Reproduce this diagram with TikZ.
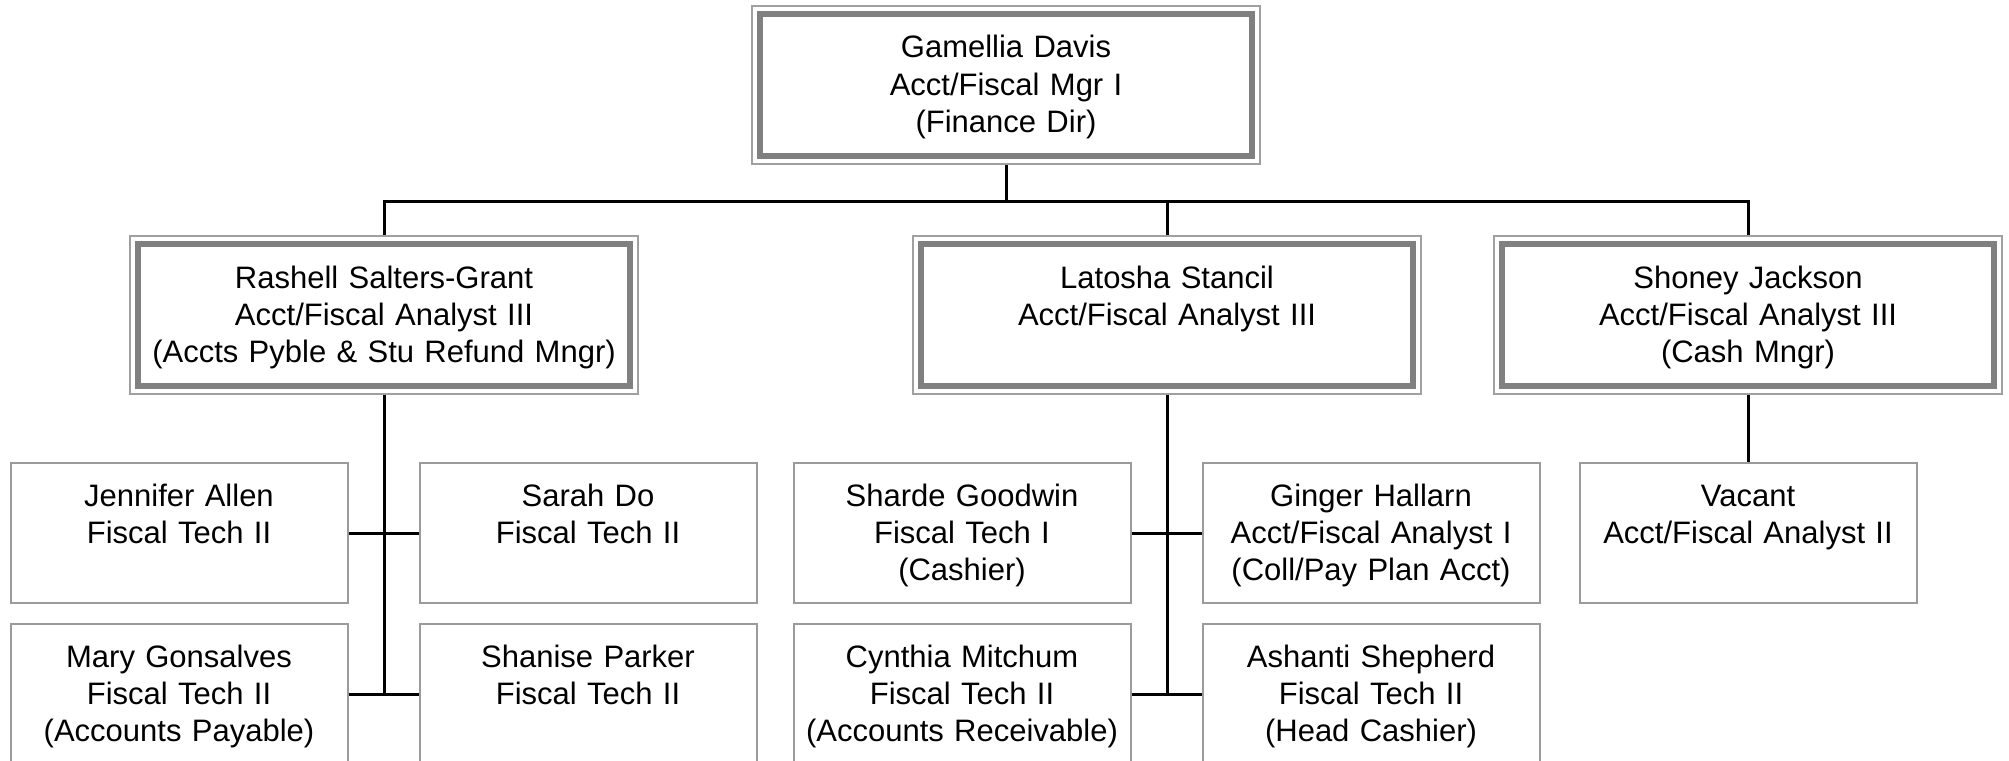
\documentclass[tikz,border=0pt]{standalone}
\usepackage{fontspec}
\setmainfont{Liberation Sans}
\usetikzlibrary{fit}
\definecolor{mgrgray}{RGB}{128,128,128}
\definecolor{rimgray}{RGB}{160,160,160}
\definecolor{staffgray}{RGB}{155,155,155}
\begin{document}
\begin{tikzpicture}[x=1pt,y=-1pt,
    every node/.style={font=\fontsize{31}{37}\selectfont,align=center,text height=24pt,text depth=78pt},
    mgr/.style={draw=mgrgray,line width=6pt,minimum width=492pt,minimum height=142pt,inner sep=2pt,text width=470pt},
    rim/.style={draw=rimgray,line width=2pt,inner sep=5pt,text height=0pt,text depth=0pt},
    staff/.style={draw=staffgray,line width=2pt,minimum width=337pt,minimum height=140pt,inner sep=2pt,text width=330pt},
    link/.style={draw=black,line width=3pt}]
        \useasboundingbox (0,0) rectangle (2009,760);
        \clip (0,0) rectangle (2009,760);
        \node[mgr] (gd) at (1006,85) {Gamellia Davis\\Acct/Fiscal Mgr I\\(Finance Dir)};
        \node[rim,fit=(gd)] (gdo) {};
        \node[mgr] (rsg) at (384,315) {Rashell Salters-Grant\\Acct/Fiscal Analyst III\\(Accts Pyble \& Stu Refund Mngr)};
        \node[rim,fit=(rsg)] (rsgo) {};
        \node[mgr] (ls) at (1167,315) {Latosha Stancil\\Acct/Fiscal Analyst III};
        \node[rim,fit=(ls)] (lso) {};
        \node[mgr] (sj) at (1748,315) {Shoney Jackson\\Acct/Fiscal Analyst III\\(Cash Mngr)};
        \node[rim,fit=(sj)] (sjo) {};
        \node[staff] (ja) at (179,533) {Jennifer Allen\\Fiscal Tech II};
        \node[staff] (sd) at (588,533) {Sarah Do\\Fiscal Tech II};
        \node[staff] (mg) at (179,694) {Mary Gonsalves\\Fiscal Tech II\\(Accounts Payable)};
        \node[staff] (sp) at (588,694) {Shanise Parker\\Fiscal Tech II};
        \node[staff] (sg) at (962,533) {Sharde Goodwin\\Fiscal Tech I\\(Cashier)};
        \node[staff] (gh) at (1371,533) {Ginger Hallarn\\Acct/Fiscal Analyst I\\(Coll/Pay Plan Acct)};
        \node[staff] (cm) at (962,694) {Cynthia Mitchum\\Fiscal Tech II\\(Accounts Receivable)};
        \node[staff] (ash) at (1371,694) {Ashanti Shepherd\\Fiscal Tech II\\(Head Cashier)};
        \node[staff] (vac) at (1748,533) {Vacant\\Acct/Fiscal Analyst II};
        \coordinate (bus) at (0,201);
        \draw[link] (gdo.south) -- (gdo.south |- bus);
        \draw[link] (rsgo.north) |- (sjo.north |- bus) -- (sjo.north);
        \draw[link] (lso.north) -- (lso.north |- bus);
        \draw[link] (rsgo.south) -- (rsgo.south |- mg.east);
        \draw[link] (ja.east) -- (sd.west);
        \draw[link] (mg.east) -- (sp.west);
        \draw[link] (lso.south) -- (lso.south |- cm.east);
        \draw[link] (sg.east) -- (gh.west);
        \draw[link] (cm.east) -- (ash.west);
        \draw[link] (sjo.south) -- (vac.north);
    \end{tikzpicture}
\end{document}
